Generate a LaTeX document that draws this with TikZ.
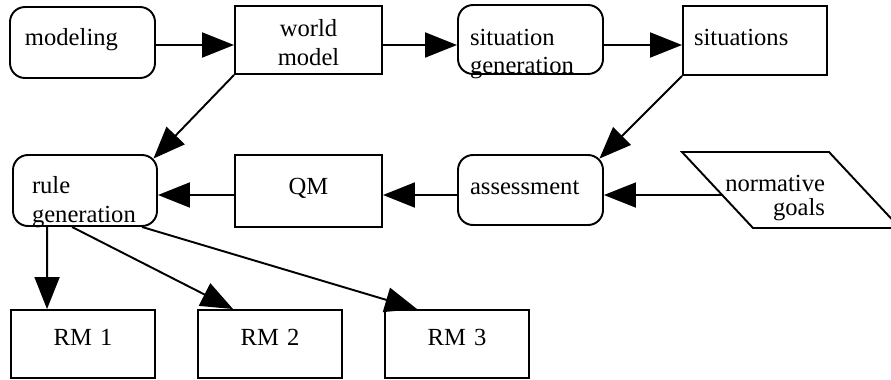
\documentclass[tikz,border=0pt]{standalone}
\usepackage{fontspec}
\setmainfont{Liberation Serif}
\usetikzlibrary{arrows.meta, calc}
\tikzset{
  blk/.style={
    draw, line width=1.1pt, inner ysep=0pt, text height=0pt, text depth=0pt,
    font=\fontsize{14}{16.5}\selectfont
  },
  proc/.style={blk, rounded corners=0.3cm},
  store/.style={blk},
  flow/.style={-{Triangle[length=6.4mm, width=5mm]}, line width=1.1pt},
  lbl/.style={font=\fontsize{14}{16.5}\selectfont, inner sep=0pt,
    text height=0pt, text depth=0pt}
}

\begin{document}
\begin{tikzpicture}

  \useasboundingbox (0,0) rectangle (17.82,7.58);
  \clip (0,0) rectangle (17.82,7.58);

  % ---- Top row -------------------------------------------------------------
  \node[proc, minimum width=2.90cm, minimum height=1.42cm, inner xsep=0.30cm,
        text width=2.30cm, align=left, text height=0.10cm] (modeling)
        at (1.65, 6.73) {modeling};
  \node[store, minimum width=2.94cm, minimum height=1.36cm,
        text width=2.60cm, align=center, text depth=0.13cm] (world)
        at (6.17, 6.78) {world\\model};
  \node[proc, minimum width=2.90cm, minimum height=1.38cm, inner xsep=0.24cm,
        text width=2.42cm, align=left, text height=0.22cm] (sitgen)
        at (10.61, 6.79) {situation\\generation};
  \node[store, minimum width=2.88cm, minimum height=1.38cm, inner xsep=0.22cm,
        text width=2.44cm, align=left, text height=0.18cm] (situations)
        at (15.10, 6.77) {situations};

  % ---- Middle row ----------------------------------------------------------
  \node[proc, minimum width=2.88cm, minimum height=1.42cm, inner xsep=0.38cm,
        text width=2.12cm, align=left, text height=0.10cm] (rule)
        at (1.70, 3.77) {rule\\generation};
  \node[store, minimum width=2.94cm, minimum height=1.44cm,
        text width=2.50cm, align=center, text height=0.12cm] (qm)
        at (6.17, 3.76) {QM};
  \node[proc, minimum width=2.90cm, minimum height=1.40cm, inner xsep=0.24cm,
        text width=2.42cm, align=left, text height=0.16cm] (assess)
        at (10.61, 3.78) {assessment};

  % ---- Normative goals (parallelogram, cut by the right margin) -----------
  \coordinate (gtl) at (13.64, 4.54);
  \coordinate (gtr) at (16.58, 4.54);
  \coordinate (gbr) at (18.00, 3.02);
  \coordinate (gbl) at (15.06, 3.02);
  \draw[line width=1.1pt] (gtl) -- (gtr) -- (gbr) -- (gbl) -- cycle;
  \node[lbl, text width=2cm, align=right] (goals) at (15.50, 3.746)
        {normative\\[-0.1cm]goals};
  \coordinate (goalsin) at ($(gtl)!0.566!(gbl)$);

  % ---- Rule models ---------------------------------------------------------
  \foreach \i/\x in {1/1.66, 2/5.40, 3/9.14}
    \node[store, minimum width=2.88cm, minimum height=1.36cm,
          text width=2.40cm, align=center, text height=0.04cm] (rm\i)
          at (\x, 0.70) {RM \i};

  % ---- Flows ---------------------------------------------------------------
  \draw[flow] ([yshift=-0.05cm]modeling.east) -- ([yshift=-0.05cm]modeling.east -| world.west);
  \draw[flow] ([yshift=-0.10cm]world.east) -- ([yshift=-0.10cm]world.east -| sitgen.west);
  \draw[flow] ([yshift=-0.11cm]sitgen.east) -- ([yshift=-0.11cm]sitgen.east -| situations.west);
  \draw[flow] (world.south west) -- ([shift={(-0.09,-0.09)}]rule.north east);
  \draw[flow] (situations.south west) -- ([shift={(-0.09,-0.09)}]assess.north east);
  \draw[flow] (goalsin) -- (goalsin -| assess.east);
  \draw[flow] ([yshift=-0.10cm]assess.west) -- ([yshift=-0.10cm]assess.west -| qm.east);
  \draw[flow] ([yshift=-0.08cm]qm.west) -- ([yshift=-0.08cm]qm.west -| rule.east);
  \draw[flow] ([xshift=0.70cm]rule.south west) -- ([xshift=0.74cm]rm1.north west);
  \draw[flow] ([xshift=1.20cm]rule.south west) -- ([xshift=0.72cm]rm2.north west);
  \draw[flow] ([xshift=2.60cm]rule.south west) -- ([xshift=0.66cm]rm3.north west);

\end{tikzpicture}
\end{document}
